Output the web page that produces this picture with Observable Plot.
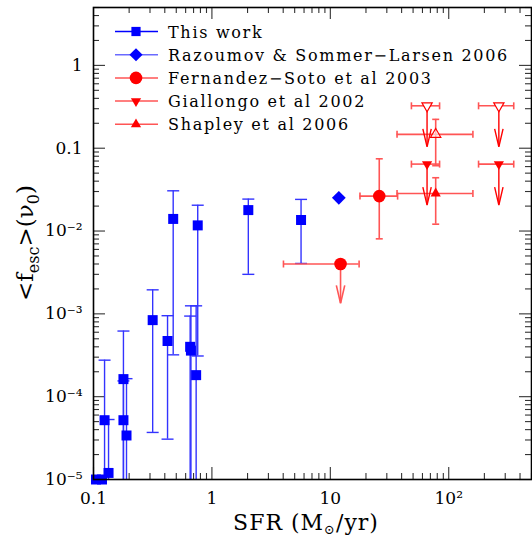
<!DOCTYPE html>
<html><head><meta charset="utf-8">
<script src="https://cdn.jsdelivr.net/npm/d3@7"></script>
<script src="https://cdn.jsdelivr.net/npm/@observablehq/plot@0.6"></script>
<style>
body{margin:0;background:#fff;}
#chart{position:relative;width:532px;height:540px;}
</style></head><body><div id="chart"></div>
<script>
// ---------- data ----------
const xTickValues = [0.1, 1, 10, 100];
const xTickLabels = ["0.1", "1", "10", "10²"];
const yTickValues = [1e-5, 1e-4, 1e-3, 1e-2, 0.1, 1];
const yTickLabels = ["10⁻⁵", "10⁻⁴", "10⁻³", "10⁻²", "0.1", "1"];

const legendLabels = ["This work", "Razoumov & Sommer−Larsen 2006", "Fernandez−Soto et al 2003", "Giallongo et al 2002", "Shapley et al 2006"];

// This work (blue squares)
const thisSFR  = [0.105, 0.118, 0.134, 0.124, 0.179, 0.179, 0.19, 0.316, 0.422, 0.471, 0.655, 0.665, 0.736, 0.759, 2.03, 5.66];
const thisFesc = [1e-5, 1e-5, 1.2e-5, 5.2e-5, 1.63e-4, 5.2e-5, 3.4e-5, 8.4e-4, 4.7e-4, 0.014, 4.0e-4, 3.6e-4, 1.82e-4, 0.0117, 0.0179, 0.0136];
const thisLow  = [null, null, 1e-5, 1e-5, 1e-5, 1e-5, 1e-5, 3.7e-5, 3.07e-5, 3.2e-4, 1e-5, 1e-5, 1e-5, 3.1e-4, 3.0e-3, 4.06e-3];
const thisHigh = [null, null, 5.3e-5, 2.76e-4, 6.2e-4, 1.55e-4, 1.65e-4, 1.95e-3, 9.5e-4, 0.0306, 9.4e-4, 1.25e-3, 1.25e-3, 0.0205, 0.0243, 0.0241];

// Razoumov & Sommer-Larsen 2006 (blue diamond)
const razSFR  = [11.8];
const razFesc = [0.0252];

// Fernandez-Soto et al 2003 (red circles)
const fsSFR     = [12.2, 25.9];
const fsSFRlo   = [4.02, 17.8];
const fsSFRhi   = [17.5, 37];
const fsFesc    = [0.004, 0.0264];
const fsLow     = [null, 0.00805];
const fsHigh    = [null, 0.0745];
const fsLimitTo = [0.00134, null];

// Giallongo et al 2002 (red down triangles, upper limits)
const giSFR     = [65.6, 265, 65.6, 265];
const giSFRlo   = [48.4, 178.6, 48.4, 178.6];
const giSFRhi   = [83.7, 354, 83.7, 354];
const giFesc    = [0.0643, 0.0643, 0.325, 0.325];
const giLimitTo = [0.0206, 0.0206, 0.104, 0.104];
const giOpen    = [false, false, true, true];

// Shapley et al 2006 (red up triangles)
const shSFR   = [77.6, 77.6];
const shSFRlo = [36.6, 36.6];
const shSFRhi = [160, 160];
const shFesc  = [0.0284, 0.147];
const shLow   = [0.0121, 0.0615];
const shHigh  = [0.044, 0.223];
const shOpen  = [false, true];

// ---------- tables ----------
const thisWork = thisSFR.map((x, i) => ({x, y: thisFesc[i], lo: thisLow[i], hi: thisHigh[i]}));
const thisErr = thisWork.filter(d => d.lo != null);
const raz = razSFR.map((x, i) => ({x, y: razFesc[i]}));
const fs = fsSFR.map((x, i) => ({x, y: fsFesc[i], xlo: fsSFRlo[i], xhi: fsSFRhi[i], lo: fsLow[i], hi: fsHigh[i], lim: fsLimitTo[i]}));
const gi = giSFR.map((x, i) => ({x, y: giFesc[i], xlo: giSFRlo[i], xhi: giSFRhi[i], lim: giLimitTo[i], open: giOpen[i]}));
const sh = shSFR.map((x, i) => ({x, y: shFesc[i], xlo: shSFRlo[i], xhi: shSFRhi[i], lo: shLow[i], hi: shHigh[i], open: shOpen[i]}));

// ---------- layout / style ----------
const W = 532, H = 540, mL = 93, mR = 1, mT = 7, mB = 61;
const pw = W - mL - mR, ph = H - mT - mB;
const xDomain = [0.1, 500], yDomain = [1e-5, 5];
const BLUE = "#0000ff", RED = "#ff0000", REDERR = "#ff5555", BLUEERR = "#3333ff";
const FONT = "DejaVu Serif";

const near = (a, list) => list.some(v => Math.abs(Math.log10(a) - Math.log10(v)) < 1e-6);
const xAll = d3.scaleLog().domain(xDomain).ticks();
const yAll = d3.scaleLog().domain(yDomain).ticks();
const xMinor = xAll.filter(v => !near(v, xTickValues));
const yMinor = yAll.filter(v => !near(v, yTickValues));

const hcapBlue = {draw(c) { c.moveTo(-6, 0); c.lineTo(6, 0); }};
const hcapRed  = {draw(c) { c.moveTo(-3.5, 0); c.lineTo(3.5, 0); }};
const vcapRed  = {draw(c) { c.moveTo(0, -3.5); c.lineTo(0, 3.5); }};
const arrowHead = {draw(c) { c.moveTo(-4.2, -18); c.lineTo(0, 0); c.lineTo(4.2, -18); }};
const triDown = {draw(c, size) {
  const y = Math.sqrt(size / (Math.sqrt(3) * 3));
  c.moveTo(0, 2 * y); c.lineTo(-Math.sqrt(3) * y, -y); c.lineTo(Math.sqrt(3) * y, -y); c.closePath();
}};

const tk = {stroke: "#333", strokeWidth: 1.1};
const minorLen = 6, majorLen = 12;

const plot = Plot.plot({
  width: W, height: H,
  marginLeft: mL, marginRight: mR, marginTop: mT, marginBottom: mB,
  style: {fontFamily: FONT, background: "white"},
  x: {type: "log", domain: xDomain, label: null},
  y: {type: "log", domain: yDomain, label: null},
  marks: [
    Plot.axisX({ticks: xTickValues, tickFormat: d => xTickLabels[xTickValues.indexOf(d)], tickSize: 0, tickPadding: 12, fontSize: 17, label: null}),
    Plot.axisY({ticks: yTickValues, tickFormat: d => yTickLabels[yTickValues.indexOf(d)], tickSize: 0, tickPadding: 11, fontSize: 17, label: null}),
    Plot.tickX(xMinor, {x: d => d, insetTop: ph - minorLen, ...tk}),
    Plot.tickX(xMinor, {x: d => d, insetBottom: ph - minorLen, ...tk}),
    Plot.tickX(xTickValues, {x: d => d, insetTop: ph - majorLen, ...tk}),
    Plot.tickX(xTickValues, {x: d => d, insetBottom: ph - majorLen, ...tk}),
    Plot.tickY(yMinor, {y: d => d, insetRight: pw - minorLen, ...tk}),
    Plot.tickY(yMinor, {y: d => d, insetLeft: pw - minorLen, ...tk}),
    Plot.tickY(yTickValues, {y: d => d, insetRight: pw - majorLen, ...tk}),
    Plot.tickY(yTickValues, {y: d => d, insetLeft: pw - majorLen, ...tk}),

    Plot.ruleX(thisErr, {x: "x", y1: "lo", y2: "hi", stroke: BLUEERR, strokeWidth: 1.4}),
    Plot.dot(thisErr, {x: "x", y: "hi", symbol: hcapBlue, stroke: BLUEERR, strokeWidth: 1.4, fill: "none"}),
    Plot.dot(thisErr.filter(d => d.lo > 1e-5), {x: "x", y: "lo", symbol: hcapBlue, stroke: BLUEERR, strokeWidth: 1.4, fill: "none"}),

    Plot.ruleY(fs, {y: "y", x1: "xlo", x2: "xhi", stroke: REDERR, strokeWidth: 1.6}),
    Plot.dot(fs, {x: "xlo", y: "y", symbol: vcapRed, stroke: REDERR, strokeWidth: 1.6}),
    Plot.dot(fs, {x: "xhi", y: "y", symbol: vcapRed, stroke: REDERR, strokeWidth: 1.6}),
    Plot.ruleX(fs.filter(d => d.lo != null), {x: "x", y1: "lo", y2: "hi", stroke: REDERR, strokeWidth: 1.6}),
    Plot.dot(fs.filter(d => d.lo != null), {x: "x", y: "lo", symbol: hcapRed, stroke: REDERR, strokeWidth: 1.6}),
    Plot.dot(fs.filter(d => d.hi != null), {x: "x", y: "hi", symbol: hcapRed, stroke: REDERR, strokeWidth: 1.6}),
    Plot.ruleX(fs.filter(d => d.lim != null), {x: "x", y1: "y", y2: "lim", stroke: REDERR, strokeWidth: 1.6}),
    Plot.dot(fs.filter(d => d.lim != null), {x: "x", y: "lim", symbol: arrowHead, stroke: REDERR, strokeWidth: 1.6, fill: "none"}),

    Plot.ruleY(sh, {y: "y", x1: "xlo", x2: "xhi", stroke: REDERR, strokeWidth: 1.6}),
    Plot.dot(sh, {x: "xlo", y: "y", symbol: vcapRed, stroke: REDERR, strokeWidth: 1.6}),
    Plot.dot(sh, {x: "xhi", y: "y", symbol: vcapRed, stroke: REDERR, strokeWidth: 1.6}),
    Plot.ruleX(sh, {x: "x", y1: "lo", y2: "hi", stroke: REDERR, strokeWidth: 1.6}),
    Plot.dot(sh, {x: "x", y: "lo", symbol: hcapRed, stroke: REDERR, strokeWidth: 1.6}),
    Plot.dot(sh, {x: "x", y: "hi", symbol: hcapRed, stroke: REDERR, strokeWidth: 1.6}),

    Plot.ruleY(gi, {y: "y", x1: "xlo", x2: "xhi", stroke: REDERR, strokeWidth: 1.6}),
    Plot.dot(gi, {x: "xlo", y: "y", symbol: vcapRed, stroke: REDERR, strokeWidth: 1.6}),
    Plot.dot(gi, {x: "xhi", y: "y", symbol: vcapRed, stroke: REDERR, strokeWidth: 1.6}),
    Plot.ruleX(gi, {x: "x", y1: "y", y2: "lim", stroke: RED, strokeWidth: 1.4}),
    Plot.dot(gi, {x: "x", y: "lim", symbol: arrowHead, stroke: RED, strokeWidth: 1.4, fill: "none"}),

    Plot.dot(thisWork, {x: "x", y: "y", symbol: "square", r: 5.64, fill: BLUE, stroke: "none"}),
    Plot.dot(raz, {x: "x", y: "y", symbol: "diamond2", r: 6.2, fill: BLUE, stroke: "none"}),
    Plot.dot(fs, {x: "x", y: "y", symbol: "circle", r: 6.3, fill: RED, stroke: "none"}),
    Plot.dot(gi.filter(d => !d.open), {x: "x", y: "y", symbol: triDown, r: 3.8, fill: RED, stroke: "none"}),
    Plot.dot(gi.filter(d => d.open), {x: "x", y: "y", symbol: triDown, r: 3.8, fill: "white", stroke: RED, strokeWidth: 1.2}),
    Plot.dot(sh.filter(d => !d.open), {x: "x", y: "y", symbol: "triangle", r: 3.8, fill: RED, stroke: "none"}),
    Plot.dot(sh.filter(d => d.open), {x: "x", y: "y", symbol: "triangle", r: 3.8, fill: "white", fillOpacity: 0.6, stroke: RED, strokeWidth: 1.2}),

    Plot.frame({stroke: "black", strokeWidth: 1.6})
  ]
});

document.getElementById("chart").appendChild(plot);

// ---------- legend & axis titles ----------
const svg = d3.select(plot);
const lg = svg.append("g").attr("text-anchor", "start");
const rowY0 = 31.5, rowDy = 23.2;
const legendStyles = [
  {line: BLUE, sym: d3.symbol(d3.symbolSquare, 85)(), fill: BLUE},
  {line: "#6a6aff", sym: d3.symbol(d3.symbolDiamond2, 110)(), fill: BLUE},
  {line: REDERR, sym: d3.symbol(d3.symbolCircle, Math.PI * 6.3 * 6.3)(), fill: RED},
  {line: REDERR, sym: d3.symbol(triDown, Math.PI * 3.8 * 3.8)(), fill: RED},
  {line: REDERR, sym: d3.symbol(d3.symbolTriangle, Math.PI * 3.8 * 3.8)(), fill: RED}
];
legendLabels.forEach((t, i) => {
  const y = rowY0 + i * rowDy;
  lg.append("line").attr("x1", 115).attr("x2", 158).attr("y1", y).attr("y2", y)
    .attr("stroke", legendStyles[i].line).attr("stroke-width", 1.5);
  lg.append("path").attr("d", legendStyles[i].sym).attr("transform", `translate(136,${y})`)
    .attr("fill", legendStyles[i].fill);
  lg.append("text").attr("x", 168).attr("y", y + 6).attr("text-anchor", "start").text(t)
    .attr("font-family", FONT).attr("font-size", 16).attr("letter-spacing", "1.7px").attr("fill", "black");
});

const yt = svg.append("text").attr("transform", "translate(33,243) rotate(-90)")
  .attr("text-anchor", "middle").attr("font-family", FONT).attr("font-size", 23).attr("fill", "black");
yt.append("tspan").text("<f");
yt.append("tspan").attr("font-size", 16).attr("dy", 6).text("esc");
yt.append("tspan").attr("dy", -6).text(">(ν");
yt.append("tspan").attr("font-size", 16).attr("dy", 6).text("0");
yt.append("tspan").attr("dy", -6).text(")");

const xt = svg.append("text").attr("x", 306).attr("y", 530)
  .attr("text-anchor", "middle").attr("font-family", FONT).attr("font-size", 22)
  .attr("letter-spacing", "1px").attr("fill", "black");
xt.append("tspan").text("SFR (M");
xt.append("tspan").attr("font-size", 13).attr("dy", 4).text("⊙");
xt.append("tspan").attr("dy", -4).text("/yr)");
</script></body></html>
